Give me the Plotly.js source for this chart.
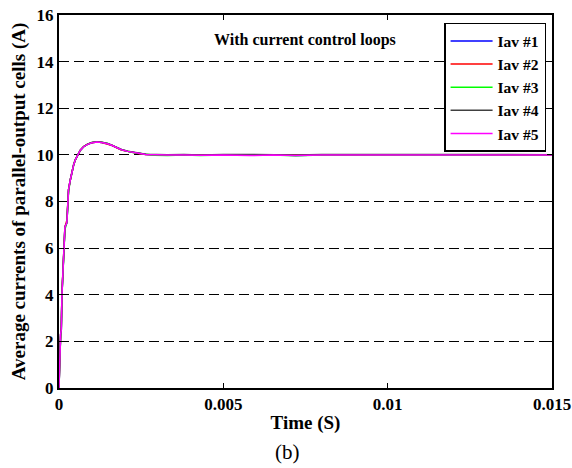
<!DOCTYPE html>
<html><head><meta charset="utf-8">
<script src="https://cdn.plot.ly/plotly-3.0.1.min.js"></script>
<style>body{margin:0;background:#fff}#chart{width:572px;height:468px}</style>
</head><body><div id="chart"></div>
<script>
const time = [0, 0.00001, 0.00002, 0.00005, 0.00007, 0.00009, 0.00012, 0.00015, 0.00018, 0.00024,
  0.00029, 0.00034, 0.00039, 0.00045, 0.0005, 0.00057, 0.00065, 0.00075, 0.00087, 0.001,
  0.00115, 0.0013, 0.00148, 0.00162, 0.00176, 0.0019, 0.00209, 0.00225, 0.00242, 0.00264,
  0.0029, 0.0033, 0.0038, 0.0043, 0.005, 0.0058, 0.0065, 0.0072, 0.008, 0.009,
  0.01, 0.011, 0.012, 0.013, 0.014, 0.015];
const iav1 = [0, 0.3, 1.0, 2.3, 2.5, 4.0, 5.0, 5.9, 6.9, 7.1, 8.5, 8.9, 9.3, 9.6, 9.8, 10.0, 10.2, 10.35, 10.45, 10.52,
  10.55, 10.53, 10.48, 10.4, 10.3, 10.22, 10.15, 10.1, 10.07, 10.02, 10.0, 9.98, 10.01, 9.98, 10.0, 9.98, 10.01, 9.97, 10.0, 10.01,
  9.99, 10.0, 9.99, 10.0, 9.99, 10.0];
const iav2 = [0, 0.3, 1.1, 2.3, 2.6, 4.1, 5.1, 5.9, 6.9, 7.2, 8.5, 8.9, 9.3, 9.6, 9.8, 10.0, 10.2, 10.36, 10.46, 10.52,
  10.55, 10.53, 10.47, 10.4, 10.3, 10.21, 10.15, 10.1, 10.06, 10.02, 10.01, 9.99, 10.0, 9.99, 10.01, 9.99, 10.0, 9.98, 10.01, 10.0,
  10.0, 9.99, 10.0, 10.01, 10.0, 10.0];
const iav3 = [0, 0.3, 1.0, 2.2, 2.5, 4.0, 5.0, 5.8, 6.8, 7.1, 8.4, 8.9, 9.3, 9.6, 9.8, 10.0, 10.2, 10.35, 10.46, 10.53,
  10.56, 10.54, 10.49, 10.41, 10.31, 10.22, 10.16, 10.1, 10.07, 10.02, 9.98, 9.97, 10.0, 9.97, 10.0, 9.98, 9.99, 9.96, 10.0, 9.99,
  9.98, 10.0, 9.98, 10.0, 9.99, 9.99];
const iav4 = [0, 0.3, 1.0, 2.3, 2.5, 4.0, 5.0, 5.9, 6.9, 7.1, 8.5, 8.9, 9.3, 9.6, 9.8, 10.0, 10.2, 10.36, 10.46, 10.53,
  10.56, 10.54, 10.49, 10.41, 10.31, 10.23, 10.16, 10.11, 10.08, 10.03, 10.02, 10.01, 10.02, 10.0, 10.02, 10.01, 10.02, 10.0, 10.02, 10.02,
  10.01, 10.02, 10.01, 10.02, 10.01, 10.01];
const iav5 = [0, 0.3, 1.0, 2.3, 2.5, 4.0, 5.0, 5.9, 6.9, 7.1, 8.5, 8.9, 9.3, 9.6, 9.8, 10.0, 10.2, 10.35, 10.45, 10.52,
  10.55, 10.53, 10.48, 10.4, 10.3, 10.22, 10.15, 10.1, 10.07, 10.02, 10.0, 9.99, 10.0, 9.98, 10.0, 9.97, 10.0, 9.97, 10.0, 10.0,
  9.99, 10.0, 9.99, 10.0, 9.99, 10.0];
const seriesNames = ['Iav #1', 'Iav #2', 'Iav #3', 'Iav #4', 'Iav #5'];
const seriesColors = ['#0000ff', '#ff0000', '#00ff00', '#404040', '#ff00ff'];
const seriesValues = [iav1, iav2, iav3, iav4, iav5];
const xTicks = [0, 0.005, 0.01, 0.015];
const xTickText = ['0', '0.005', '0.01', '0.015'];
const yTicks = [0, 2, 4, 6, 8, 10, 12, 14, 16];

const font = "'Liberation Serif', 'Times New Roman', serif";
const traces = seriesValues.map((v, i) => ({
  x: time, y: v, type: 'scatter', mode: 'lines', name: seriesNames[i],
  line: {color: seriesColors[i], width: 1.5}
}));

const layout = {
  width: 572, height: 468,
  margin: {l: 59, r: 20, t: 15, b: 80},
  paper_bgcolor: '#fff', plot_bgcolor: '#fff',
  font: {family: font, color: '#000'},
  showlegend: true,
  legend: {
    x: 0.988, y: 0.979, xanchor: 'right', yanchor: 'top',
    bgcolor: '#fff', bordercolor: '#000', borderwidth: 1.5,
    font: {family: font, size: 15.5, weight: 'bold', color: '#000'},
    tracegroupgap: 0, itemwidth: 42
  },
  xaxis: {
    range: [0, 0.015], tickvals: xTicks, ticktext: xTickText,
    showgrid: false, zeroline: false,
    showline: true, linecolor: '#000', linewidth: 2, mirror: 'ticks',
    ticks: 'inside', ticklen: 5, tickcolor: '#000',
    tickfont: {family: font, size: 17, weight: 'bold'},
    title: {text: 'Time (S)', font: {family: font, size: 19, weight: 'bold'}, standoff: 2}
  },
  yaxis: {
    range: [0, 16], tickvals: yTicks,
    showgrid: true, gridcolor: '#000', griddash: '10px,5px', gridwidth: 1,
    zeroline: false,
    showline: true, linecolor: '#000', linewidth: 2, mirror: 'ticks',
    ticks: 'inside', ticklen: 5, tickcolor: '#000',
    tickfont: {family: font, size: 17, weight: 'bold'},
    title: {text: 'Average currents of parallel-output cells (A)', font: {family: font, size: 19, weight: 'bold'}, standoff: 6}
  },
  annotations: [
    {text: 'With current control loops', xref: 'paper', yref: 'paper', x: 0.31, y: 0.933,
     xanchor: 'left', yanchor: 'middle', showarrow: false,
     font: {family: font, size: 16, weight: 'bold', color: '#000'}},
    {text: '(b)', xref: 'paper', yref: 'paper', x: 0.4625, y: -0.172,
     xanchor: 'center', yanchor: 'middle', showarrow: false,
     font: {family: font, size: 21, color: '#000'}}
  ]
};

Plotly.newPlot('chart', traces, layout, {displayModeBar: false, staticPlot: true});
</script>
</body></html>
